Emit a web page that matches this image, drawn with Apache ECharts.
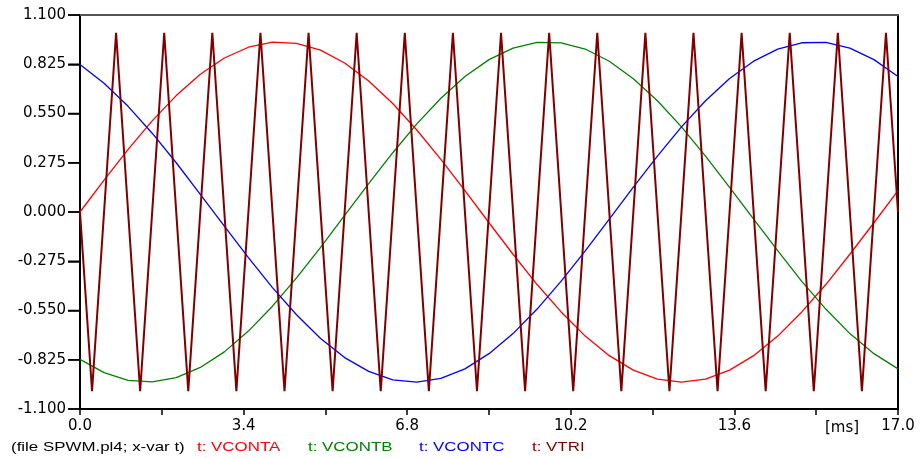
<!DOCTYPE html>
<html>
<head>
<meta charset="utf-8">
<script src="https://cdn.jsdelivr.net/npm/echarts@6/dist/echarts.min.js"></script>
<style>html,body{margin:0;padding:0;background:#fff}#c{width:920px;height:458px}</style>
</head>
<body>
<div id="c"></div>
<script>
// Time samples [ms] for the three control sines
const timeMs = [0,0.5,1,1.5,2,2.5,3,3.5,4,4.5,5,5.5,6,6.5,7,7.5,8,8.5,9,9.5,10,10.5,11,11.5,12,12.5,13,13.5,14,14.5,15,15.5,16,16.5,17];
const vcontA = [0.000,0.178,0.350,0.509,0.650,0.769,0.860,0.920,0.948,0.942,0.904,0.832,0.732,0.606,0.458,0.294,0.119,-0.060,-0.236,-0.405,-0.558,-0.693,-0.802,-0.883,-0.933,-0.950,-0.933,-0.883,-0.802,-0.693,-0.558,-0.405,-0.236,-0.060,0.119];
const vcontB = [-0.823,-0.897,-0.940,-0.949,-0.925,-0.868,-0.781,-0.665,-0.526,-0.368,-0.198,-0.019,0.158,0.331,0.492,0.635,0.757,0.851,0.915,0.947,0.944,0.910,0.842,0.744,0.621,0.475,0.312,0.138,-0.040,-0.216,-0.387,-0.542,-0.679,-0.791,-0.876];
const vcontC = [0.823,0.719,0.590,0.440,0.275,0.099,-0.079,-0.255,-0.422,-0.574,-0.706,-0.813,-0.890,-0.937,-0.950,-0.929,-0.876,-0.791,-0.679,-0.542,-0.386,-0.217,-0.040,0.139,0.312,0.475,0.621,0.745,0.842,0.909,0.945,0.947,0.915,0.851,0.757];
// Triangle carrier vertices
const triTime = [0,0.25,0.75,1.25,1.75,2.25,2.75,3.25,3.75,4.25,4.75,5.25,5.75,6.25,6.75,7.25,7.75,8.25,8.75,9.25,9.75,10.25,10.75,11.25,11.75,12.25,12.75,13.25,13.75,14.25,14.75,15.25,15.75,16.25,16.75,17];
const triVal  = [0,-1,1,-1,1,-1,1,-1,1,-1,1,-1,1,-1,1,-1,1,-1,1,-1,1,-1,1,-1,1,-1,1,-1,1,-1,1,-1,1,-1,1,0];
// Y tick values
const yTicks = [-1.1,-0.825,-0.55,-0.275,0,0.275,0.55,0.825,1.1];
const seriesNames = ['t: VCONTA','t: VCONTB','t: VCONTC','t: VTRI'];
const seriesColors = ['#ff0000','#008000','#0000ff','#800000'];
const fileLabel = '(file SPWM.pl4; x-var t)';
const unitLabel = '[ms]';

const pair = (xs, ys) => xs.map((x, i) => [x, ys[i]]);
const chart = echarts.init(document.getElementById('c'));
const axisFont = {fontFamily: 'DejaVu Sans', fontSize: 15, color: '#000'};

const legendX = [11, 197, 308, 419, 532];
const legendTexts = [fileLabel].concat(seriesNames);
const legendColors = ['#000'].concat(seriesColors);
const graphics = legendTexts.map((t, i) => ({
  type: 'text', x: legendX[i], y: 447, scaleX: 1.3,
  style: {text: t, fill: legendColors[i], font: '13px "Liberation Sans"', textAlign: 'left', textVerticalAlign: 'middle'}
}));
graphics.push({type: 'text', x: 842, y: 428, style: {text: unitLabel, fill: '#000', font: '15px "DejaVu Sans"', textAlign: 'center', textVerticalAlign: 'middle'}});

chart.setOption({
  animation: false,
  grid: {left: 80, right: 22, top: 15, bottom: 49, show: true, borderColor: '#000', borderWidth: 2},
  xAxis: [{
    type: 'value', min: 0, max: 17, interval: 1.7,
    axisLine: {show: true, onZero: false, lineStyle: {color: '#000', width: 2}},
    axisTick: {show: true, length: 6, lineStyle: {color: '#000', width: 1.5}},
    splitLine: {show: false},
    axisLabel: Object.assign({margin: 10, showMaxLabel: true, showMinLabel: true,
      formatter: v => { const k = Math.round(v / 1.7); return k % 2 === 0 ? (k * 1.7).toFixed(1) : ''; }}, axisFont)
  }, {
    type: 'value', min: 0, max: 17, position: 'top',
    axisLine: {show: true, onZero: false, lineStyle: {color: '#555', width: 2}},
    axisTick: {show: false}, axisLabel: {show: false}, splitLine: {show: false}
  }],
  yAxis: {
    type: 'value', min: -1.1, max: 1.1, interval: 0.275,
    axisLine: {show: true, onZero: false, lineStyle: {color: '#000', width: 2}},
    axisTick: {show: true, length: 12, lineStyle: {color: '#000', width: 1.5}},
    splitLine: {show: false},
    axisLabel: Object.assign({margin: 14, formatter: v => v.toFixed(3)}, axisFont)
  },
  graphic: graphics,
  series: [
    {name: seriesNames[0], type: 'line', data: pair(timeMs, vcontA), showSymbol: false, lineStyle: {color: seriesColors[0], width: 1.3}},
    {name: seriesNames[1], type: 'line', data: pair(timeMs, vcontB), showSymbol: false, lineStyle: {color: seriesColors[1], width: 1.3}},
    {name: seriesNames[2], type: 'line', data: pair(timeMs, vcontC), showSymbol: false, lineStyle: {color: seriesColors[2], width: 1.3}},
    {name: seriesNames[3], type: 'line', data: pair(triTime, triVal), showSymbol: false, lineStyle: {color: seriesColors[3], width: 2}},
    {name: 'yticks', type: 'custom', silent: true, clip: false,
      data: yTicks.map(v => [0, v]),
      renderItem: (params, api) => {
        const p = api.coord([0, api.value(1)]);
        return {type: 'line', shape: {x1: p[0] - 12, y1: p[1], x2: p[0], y2: p[1]}, style: {stroke: '#000', lineWidth: 1.5}};
      }}
  ]
});
</script>
</body>
</html>
